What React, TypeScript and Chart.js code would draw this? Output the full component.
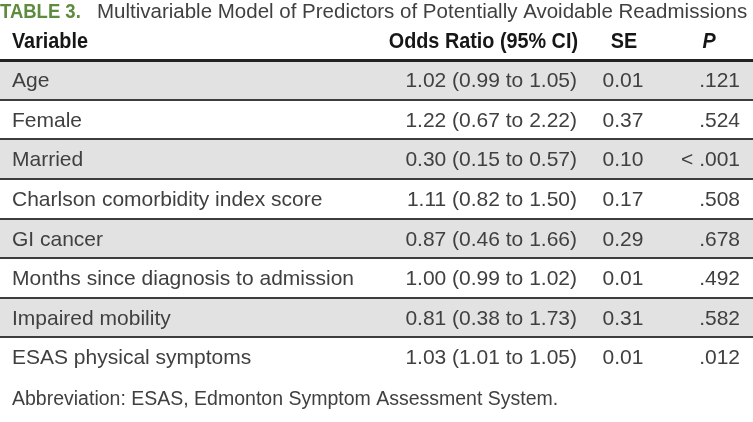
import { useEffect, useRef } from 'react';
import { Chart, registerables } from 'chart.js';

Chart.register(...registerables);

// ---- data ----
const titleLabel = 'TABLE 3.';
const titleText = 'Multivariable Model of Predictors of Potentially Avoidable Readmissions';
const headers = ['Variable', 'Odds Ratio (95% CI)', 'SE', 'P'];
const variables = [
  'Age',
  'Female',
  'Married',
  'Charlson comorbidity index score',
  'GI cancer',
  'Months since diagnosis to admission',
  'Impaired mobility',
  'ESAS physical symptoms',
];
const oddsRatios = [
  '1.02 (0.99 to 1.05)',
  '1.22 (0.67 to 2.22)',
  '0.30 (0.15 to 0.57)',
  '1.11 (0.82 to 1.50)',
  '0.87 (0.46 to 1.66)',
  '1.00 (0.99 to 1.02)',
  '0.81 (0.38 to 1.73)',
  '1.03 (1.01 to 1.05)',
];
const standardErrors = ['0.01', '0.37', '0.10', '0.17', '0.29', '0.01', '0.31', '0.01'];
const pValues = ['.121', '.524', '< .001', '.508', '.678', '.492', '.582', '.012'];
const rowShading = [1, 0, 1, 0, 1, 0, 1, 0];
const footnote = 'Abbreviation: ESAS, Edmonton Symptom Assessment System.';

// ---- layout / style ----
const W = 753;
const H = 422;
const SANS = '"Liberation Sans", Arial, sans-serif';
const GREEN = '#5e8b3e';
const BODY = '#404040';
const HEAD = '#161616';
const SHADE = '#e2e2e2';
const COL = { variable: 12, orRight: 577, seCenter: 623, pRight: 740, pHead: 709 };
const LABEL_SHIFT = 1.5;
const CONDENSE = 0.9;

function condensedText(ctx: CanvasRenderingContext2D, text: string, x: number, y: number, align: CanvasTextAlign, sx = CONDENSE) {
  ctx.save();
  ctx.translate(x, y);
  ctx.scale(sx, 1);
  ctx.textAlign = align;
  ctx.fillText(text, 0, 0);
  ctx.restore();
}

const tablePlugin = {
  id: 'tableText',
  afterDraw(chart: any) {
    const { ctx } = chart;
    const y = chart.scales.y;
    ctx.save();
    // title
    ctx.textBaseline = 'alphabetic';
    ctx.fillStyle = GREEN;
    ctx.font = `bold 21px ${SANS}`;
    condensedText(ctx, titleLabel, 0, 18, 'left', 0.88);
    ctx.fillStyle = BODY;
    ctx.font = `20.5px ${SANS}`;
    ctx.textAlign = 'left';
    ctx.fillText(titleText, 97, 18);
    // headers
    ctx.fillStyle = HEAD;
    ctx.font = `bold 22px ${SANS}`;
    condensedText(ctx, headers[0], COL.variable, 48, 'left');
    condensedText(ctx, headers[1], COL.orRight + 1, 48, 'right');
    condensedText(ctx, headers[2], COL.seCenter + 1, 48, 'center');
    ctx.font = `italic bold 22px ${SANS}`;
    condensedText(ctx, headers[3], COL.pHead, 48, 'center');
    // cells
    ctx.font = `21px ${SANS}`;
    ctx.fillStyle = BODY;
    ctx.textBaseline = 'middle';
    variables.forEach((_, i) => {
      const yy = y.getPixelForValue(i) + LABEL_SHIFT;
      ctx.textAlign = 'right';
      ctx.fillText(oddsRatios[i], COL.orRight, yy);
      ctx.textAlign = 'center';
      ctx.fillText(standardErrors[i], COL.seCenter, yy);
      ctx.textAlign = 'right';
      ctx.fillText(pValues[i], COL.pRight, yy);
    });
    // footnote
    ctx.textAlign = 'left';
    ctx.textBaseline = 'alphabetic';
    ctx.font = `19.5px ${SANS}`;
    ctx.fillText(footnote, COL.variable, 405);
    ctx.restore();
  },
};

export default function App() {
  const ref = useRef<HTMLCanvasElement | null>(null);
  useEffect(() => {
    if (!ref.current) return;
    const chart = new Chart(ref.current, {
      type: 'bar',
      data: {
        labels: variables,
        datasets: [
          {
            data: rowShading.map((v) => (v ? v : null)),
            backgroundColor: SHADE,
            borderWidth: 0,
            barPercentage: 1,
            categoryPercentage: 1,
          },
        ],
      },
      options: {
        indexAxis: 'y',
        responsive: false,
        animation: false,
        events: [],
        layout: { padding: { top: 60, bottom: 45, left: 0, right: 0 } },
        plugins: { legend: { display: false }, tooltip: { enabled: false }, title: { display: false } },
        scales: {
          x: { display: false, min: 0, max: 1 },
          y: {
            type: 'category',
            position: 'left',
            offset: true,
            afterFit: (s: any) => {
              s.width = 0;
            },
            border: { display: false },
            grid: {
              offset: true,
              drawTicks: false,
              z: 1,
              color: (c: any) =>
                c.index === 0 ? '#222222' : c.index === undefined ? 'rgba(0,0,0,0)' : '#3d3d3d',
              lineWidth: (c: any) => (c.index === 0 ? 3 : 2),
            },
            ticks: {
              mirror: true,
              padding: COL.variable,
              z: 2,
              autoSkip: false,
              labelOffset: LABEL_SHIFT,
              color: BODY,
              font: { family: SANS, size: 21 },
            },
          },
        },
      },
      plugins: [tablePlugin],
    } as any);
    return () => chart.destroy();
  }, []);
  return (
    <div style={{ position: 'fixed', left: 0, top: 0, width: W, height: H, background: '#fff' }}>
      <canvas ref={ref} width={W} height={H} style={{ width: W, height: H, display: 'block' }} />
    </div>
  );
}
